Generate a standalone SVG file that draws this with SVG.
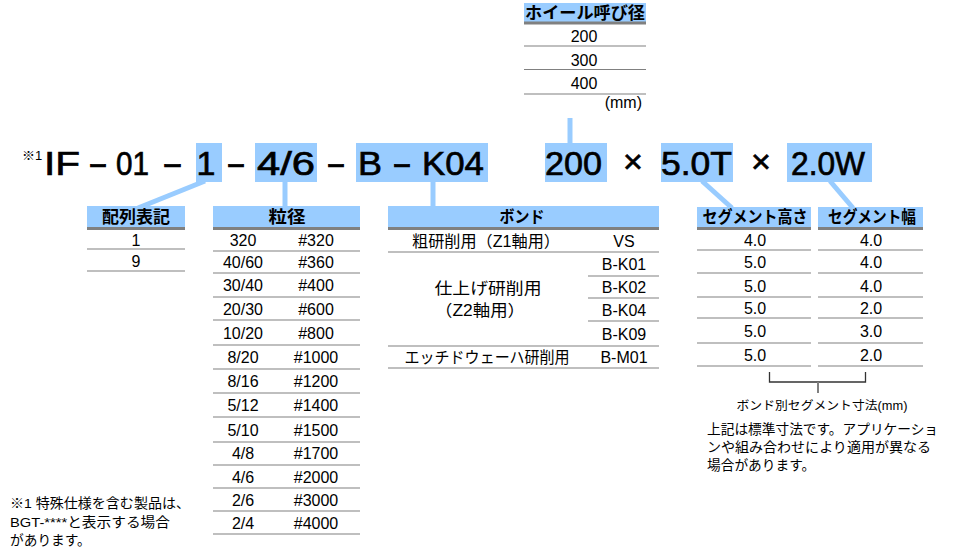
<svg xmlns="http://www.w3.org/2000/svg" width="962" height="556" viewBox="0 0 962 556">
<style>
text{font-family:"Liberation Sans","Noto Sans CJK JP",sans-serif;fill:#000}
.hl{fill:#99CCFF}
.hdr{font-family:"Noto Sans CJK JP",sans-serif;font-weight:700;font-size:16.5px;text-anchor:middle}
.cell{font-size:16px;text-anchor:middle}
.code{font-size:34px;stroke:#000;stroke-width:0.7}
.thick{stroke:#808080;stroke-width:3}
.rule{stroke:#808080;stroke-width:1.2}
.conn{stroke:#99CCFF;stroke-width:5;fill:none}
.small{font-size:13.7px}
</style>

<g id="connectors">
  <line class="conn" x1="570" y1="118" x2="570" y2="143"/>
  <line class="conn" x1="205" y1="181" x2="138" y2="208"/>
  <line class="conn" x1="285" y1="181" x2="285" y2="207"/>
  <line class="conn" x1="433" y1="181" x2="433" y2="207"/>
  <line class="conn" x1="702" y1="181" x2="732" y2="208"/>
  <line class="conn" x1="830" y1="181" x2="853" y2="208"/>
</g>

<g id="wheel-diameter">
  <rect class="hl" x="524" y="3" width="122" height="19"/>
  <text class="hdr" x="585" y="19" textLength="120" lengthAdjust="spacingAndGlyphs">ホイール呼び径</text>
  <line class="thick" x1="524" y1="23" x2="646" y2="23"/>
  <text class="cell" x="584" y="42">200</text>
  <line class="rule" x1="524" y1="46" x2="646" y2="46"/>
  <text class="cell" x="584" y="66">300</text>
  <line class="rule" x1="524" y1="69.5" x2="646" y2="69.5"/>
  <text class="cell" x="584" y="89">400</text>
  <line class="rule" x1="524" y1="94" x2="646" y2="94"/>
  <text x="642" y="108" font-size="16" text-anchor="end">(mm)</text>
</g>

<g id="model-code">
  <text x="22" y="160" font-size="13">※1</text>
  <rect class="hl" x="196" y="143" width="26" height="39"/>
  <rect class="hl" x="255" y="143" width="62" height="39"/>
  <rect class="hl" x="356" y="143" width="132" height="39"/>
  <rect class="hl" x="545" y="143" width="62" height="39"/>
  <rect class="hl" x="661" y="143" width="72" height="39"/>
  <rect class="hl" x="787" y="143" width="85" height="39"/>
  <text class="code" x="44" y="175" textLength="36" lengthAdjust="spacingAndGlyphs">IF</text>
  <text class="code" x="88" y="175" textLength="20" lengthAdjust="spacingAndGlyphs">-</text>
  <text class="code" x="116" y="175" textLength="33" lengthAdjust="spacingAndGlyphs">01</text>
  <text class="code" x="162" y="175" textLength="21" lengthAdjust="spacingAndGlyphs">-</text>
  <text class="code" x="206" y="175" text-anchor="middle">1</text>
  <text class="code" x="226" y="175" textLength="20" lengthAdjust="spacingAndGlyphs">-</text>
  <text class="code" x="257" y="175" textLength="58" lengthAdjust="spacingAndGlyphs">4/6</text>
  <text class="code" x="326" y="175" textLength="20" lengthAdjust="spacingAndGlyphs">-</text>
  <text class="code" x="358" y="175" textLength="24" lengthAdjust="spacingAndGlyphs">B</text>
  <text class="code" x="392" y="175" textLength="20" lengthAdjust="spacingAndGlyphs">-</text>
  <text class="code" x="422" y="175" textLength="62" lengthAdjust="spacingAndGlyphs">K04</text>
  <text class="code" x="545" y="175" textLength="57" lengthAdjust="spacingAndGlyphs">200</text>
  <text class="code" x="633" y="173" text-anchor="middle" font-size="30">×</text>
  <text class="code" x="661" y="175" textLength="71" lengthAdjust="spacingAndGlyphs">5.0T</text>
  <text class="code" x="761" y="173" text-anchor="middle" font-size="30">×</text>
  <text class="code" x="791" y="175" textLength="74" lengthAdjust="spacingAndGlyphs">2.0W</text>
</g>

<g id="array-table">
  <rect class="hl" x="87" y="206" width="98" height="21"/>
  <text class="hdr" x="136" y="223" textLength="68" lengthAdjust="spacingAndGlyphs">配列表記</text>
  <line class="thick" x1="87" y1="228.5" x2="185" y2="228.5"/>
  <text class="cell" x="136" y="246">1</text>
  <line class="rule" x1="87" y1="249" x2="185" y2="249"/>
  <text class="cell" x="136" y="267">9</text>
  <line class="rule" x1="87" y1="271" x2="185" y2="271"/>
</g>

<g id="grit-table">
  <rect class="hl" x="213" y="206" width="147" height="21"/>
  <text class="hdr" x="287" y="223" textLength="37" lengthAdjust="spacingAndGlyphs">粒径</text>
  <line class="thick" x1="213" y1="228.5" x2="360" y2="228.5"/>
  <g class="cell">
    <text x="243" y="246">320</text><text x="316" y="246">#320</text>
    <text x="243" y="268">40/60</text><text x="316" y="268">#360</text>
    <text x="243" y="291">30/40</text><text x="316" y="291">#400</text>
    <text x="243" y="314.5">20/30</text><text x="316" y="314.5">#600</text>
    <text x="243" y="338.5">10/20</text><text x="316" y="338.5">#800</text>
    <text x="243" y="363">8/20</text><text x="316" y="363">#1000</text>
    <text x="243" y="387">8/16</text><text x="316" y="387">#1200</text>
    <text x="243" y="411">5/12</text><text x="316" y="411">#1400</text>
    <text x="243" y="435.5">5/10</text><text x="316" y="435.5">#1500</text>
    <text x="243" y="459">4/8</text><text x="316" y="459">#1700</text>
    <text x="243" y="482.5">4/6</text><text x="316" y="482.5">#2000</text>
    <text x="243" y="505.5">2/6</text><text x="316" y="505.5">#3000</text>
    <text x="243" y="528.5">2/4</text><text x="316" y="528.5">#4000</text>
  </g>
  <line class="rule" x1="213" y1="251" x2="360" y2="251" stroke-width="2"/>
  <line class="rule" x1="213" y1="273" x2="360" y2="273" stroke-width="2"/>
  <line class="rule" x1="213" y1="297" x2="360" y2="297"/>
  <line class="rule" x1="213" y1="320" x2="360" y2="320"/>
  <line class="rule" x1="213" y1="345" x2="360" y2="345"/>
  <line class="rule" x1="213" y1="369" x2="360" y2="369"/>
  <line class="rule" x1="213" y1="393" x2="360" y2="393"/>
  <line class="rule" x1="213" y1="417" x2="360" y2="417"/>
  <line class="rule" x1="213" y1="442" x2="360" y2="442"/>
  <line class="rule" x1="213" y1="465" x2="360" y2="465"/>
  <line class="rule" x1="213" y1="488" x2="360" y2="488"/>
  <line class="rule" x1="213" y1="511" x2="360" y2="511" stroke-width="2.2"/>
  <line class="rule" x1="213" y1="534" x2="360" y2="534"/>
</g>

<g id="bond-table">
  <rect class="hl" x="388" y="206" width="271" height="21"/>
  <text class="hdr" x="522" y="223" textLength="45" lengthAdjust="spacingAndGlyphs">ボンド</text>
  <line class="thick" x1="388" y1="228.5" x2="659" y2="228.5"/>
  <text class="cell" x="486" y="247" textLength="148" lengthAdjust="spacingAndGlyphs">粗研削用（Z1軸用）</text>
  <text class="cell" x="624" y="247">VS</text>
  <line class="rule" x1="388" y1="252" x2="659" y2="252"/>
  <text class="cell" x="488" y="294" textLength="107" lengthAdjust="spacingAndGlyphs">仕上げ研削用</text>
  <text class="cell" x="480" y="316" textLength="90" lengthAdjust="spacingAndGlyphs">（Z2軸用）</text>
  <text class="cell" x="624" y="270">B-K01</text>
  <line class="rule" x1="588" y1="276" x2="659" y2="276"/>
  <text class="cell" x="624" y="293">B-K02</text>
  <line class="rule" x1="588" y1="298" x2="659" y2="298"/>
  <text class="cell" x="624" y="316">B-K04</text>
  <line class="rule" x1="588" y1="321" x2="659" y2="321"/>
  <text class="cell" x="624" y="340">B-K09</text>
  <line class="rule" x1="388" y1="346" x2="659" y2="346"/>
  <text class="cell" x="487" y="363" textLength="165" lengthAdjust="spacingAndGlyphs">エッチドウェーハ研削用</text>
  <text class="cell" x="624" y="363">B-M01</text>
  <line class="rule" x1="388" y1="368" x2="659" y2="368"/>
</g>

<g id="segment-height-table">
  <rect class="hl" x="697" y="207" width="114" height="20"/>
  <text class="hdr" x="755" y="223" textLength="105" lengthAdjust="spacingAndGlyphs">セグメント高さ</text>
  <line class="thick" x1="697" y1="228.5" x2="811" y2="228.5"/>
  <g class="cell">
    <text x="755" y="245.5">4.0</text>
    <text x="755" y="268">5.0</text>
    <text x="755" y="291.5">5.0</text>
    <text x="755" y="314">5.0</text>
    <text x="755" y="337">5.0</text>
    <text x="755" y="361">5.0</text>
  </g>
  <line class="rule" x1="697" y1="250" x2="811" y2="250"/>
  <line class="rule" x1="697" y1="273" x2="811" y2="273"/>
  <line class="rule" x1="697" y1="297" x2="811" y2="297"/>
  <line class="rule" x1="697" y1="318" x2="811" y2="318"/>
  <line class="rule" x1="697" y1="343" x2="811" y2="343"/>
  <line class="rule" x1="697" y1="366" x2="811" y2="366"/>
</g>

<g id="segment-width-table">
  <rect class="hl" x="818" y="207" width="105" height="20"/>
  <text class="hdr" x="872" y="223" textLength="88" lengthAdjust="spacingAndGlyphs">セグメント幅</text>
  <line class="thick" x1="818" y1="228.5" x2="923" y2="228.5"/>
  <g class="cell">
    <text x="871" y="245.5">4.0</text>
    <text x="871" y="268">4.0</text>
    <text x="871" y="291.5">4.0</text>
    <text x="871" y="314">2.0</text>
    <text x="871" y="337">3.0</text>
    <text x="871" y="361">2.0</text>
  </g>
  <line class="rule" x1="818" y1="250" x2="923" y2="250"/>
  <line class="rule" x1="818" y1="273" x2="923" y2="273"/>
  <line class="rule" x1="818" y1="297" x2="923" y2="297"/>
  <line class="rule" x1="818" y1="318" x2="923" y2="318"/>
  <line class="rule" x1="818" y1="343" x2="923" y2="343"/>
  <line class="rule" x1="818" y1="366" x2="923" y2="366"/>
</g>

<g id="segment-note">
  <path d="M769.5 372 V382 H865.5 V372" fill="none" stroke="#333" stroke-width="1.3"/>
  <line x1="818" y1="382" x2="818" y2="393" stroke="#808080" stroke-width="2"/>
  <text x="822" y="410" font-size="12" text-anchor="middle" textLength="171" lengthAdjust="spacingAndGlyphs">ボンド別セグメント寸法(mm)</text>
  <text class="small" x="707" y="434">上記は標準寸法です。アプリケーショ</text>
  <text class="small" x="707" y="452" textLength="224" lengthAdjust="spacingAndGlyphs">ンや組み合わせにより適用が異なる</text>
  <text class="small" x="707" y="470">場合があります。</text>
</g>

<g id="footnote">
  <text class="small" x="10" y="508" font-size="13.5" textLength="180" lengthAdjust="spacingAndGlyphs">※1 特殊仕様を含む製品は、</text>
  <text class="small" x="10" y="527" font-size="13.5" textLength="160" lengthAdjust="spacingAndGlyphs">BGT-****と表示する場合</text>
  <text class="small" x="10" y="545" font-size="13.5">があります。</text>
</g>
</svg>
